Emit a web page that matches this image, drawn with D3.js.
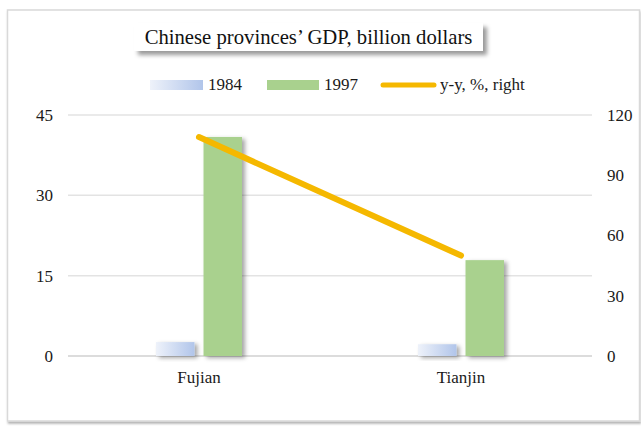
<!DOCTYPE html>
<html>
<head>
<meta charset="utf-8">
<script src="https://cdn.jsdelivr.net/npm/d3@7"></script>
<style>
  html, body { margin: 0; padding: 0; background: #fff; }
  svg { display: block; font-family: "Liberation Serif", "Times New Roman", serif; }
  svg text { font-family: "Liberation Serif", "Times New Roman", serif; }
</style>
</head>
<body>
<svg id="chart" width="641" height="426"></svg>
<script>
const categories = ["Fujian", "Tianjin"];
const seriesNames = ["1984", "1997"];
const gdp1984 = [2.6, 2.2];
const gdp1997 = [40.9, 17.9];
const yoy = [109, 50];
const leftTicks = [0, 15, 30, 45];
const rightTicks = [0, 30, 60, 90, 120];
const title = "Chinese provinces\u2019 GDP, billion dollars";
const lineLabel = "y-y, %, right";

const svg = d3.select("#chart");
const defs = svg.append("defs");

const grad = defs.append("linearGradient").attr("id", "g1984")
  .attr("x1", "0%").attr("x2", "100%").attr("y1", "0%").attr("y2", "0%");
grad.append("stop").attr("offset", "0%").attr("stop-color", "#eef2fa");
grad.append("stop").attr("offset", "100%").attr("stop-color", "#b1c5ea");

const sh = defs.append("filter").attr("id", "shadow")
  .attr("x", "-20%").attr("y", "-20%").attr("width", "160%").attr("height", "160%");
sh.append("feDropShadow").attr("dx", 3).attr("dy", 2).attr("stdDeviation", 2)
  .attr("flood-color", "#000").attr("flood-opacity", 0.35);

const shT = defs.append("filter").attr("id", "shadowT")
  .attr("x", "-10%").attr("y", "-30%").attr("width", "130%").attr("height", "190%");
shT.append("feDropShadow").attr("dx", 4).attr("dy", 4).attr("stdDeviation", 2)
  .attr("flood-color", "#000").attr("flood-opacity", 0.4);

const shF = defs.append("filter").attr("id", "shadowF")
  .attr("x", "-5%").attr("y", "-5%").attr("width", "110%").attr("height", "110%");
shF.append("feDropShadow").attr("dx", 1).attr("dy", 2).attr("stdDeviation", 1)
  .attr("flood-color", "#000").attr("flood-opacity", 0.3);

// outer frame
svg.append("rect").attr("x", 7.5).attr("y", 10).attr("width", 632).attr("height", 411)
  .attr("fill", "#fff").attr("stroke", "#d9d9d9").attr("stroke-width", 1.5)
  .attr("filter", "url(#shadowF)");

const x0 = 68, x1 = 592, yBottom = 356, yTop = 115;

const x = d3.scaleBand().domain(categories).range([x0, x1]).padding(0);
const xInner = d3.scaleBand().domain(seriesNames).range([0, 86]).paddingInner(0.19).paddingOuter(0);
const yL = d3.scaleLinear().domain([0, 45]).range([yBottom, yTop]);
const yR = d3.scaleLinear().domain([0, 120]).range([yBottom, yTop]);

// gridlines
svg.append("g").selectAll("line").data(leftTicks).join("line")
  .attr("x1", x0).attr("x2", x1)
  .attr("y1", d => yL(d)).attr("y2", d => yL(d))
  .attr("stroke", d => d === 0 ? "#d0d0d0" : "#e3e3e3")
  .attr("stroke-width", 1.5);

// left axis labels
svg.append("g").selectAll("text").data(leftTicks).join("text")
  .attr("x", 53).attr("y", d => yL(d)).attr("dy", "0.35em")
  .attr("text-anchor", "end").attr("font-size", 17).attr("fill", "#1a1a1a")
  .text(d => d);

// right axis labels
svg.append("g").selectAll("text").data(rightTicks).join("text")
  .attr("x", 607).attr("y", d => yR(d)).attr("dy", "0.35em")
  .attr("text-anchor", "start").attr("font-size", 17).attr("fill", "#1a1a1a")
  .text(d => d);

// bars
const groupOffset = (x.bandwidth() - 86) / 2;
const seriesData = [
  { name: "1984", values: gdp1984, fill: "url(#g1984)" },
  { name: "1997", values: gdp1997, fill: "#a9d18e" }
];
seriesData.forEach(s => {
  svg.append("g").selectAll("rect").data(categories).join("rect")
    .attr("x", (c) => x(c) + groupOffset + xInner(s.name))
    .attr("width", xInner.bandwidth())
    .attr("y", (c, i) => yL(s.values[i]))
    .attr("height", (c, i) => yL(0) - yL(s.values[i]))
    .attr("fill", s.fill)
    .attr("filter", "url(#shadow)");
});

// line
const line = d3.line()
  .x((d, i) => x(categories[i]) + x.bandwidth() / 2)
  .y(d => yR(d));
svg.append("path").datum(yoy)
  .attr("d", line)
  .attr("fill", "none").attr("stroke", "#f5b800").attr("stroke-width", 6)
  .attr("stroke-linecap", "round");

// category labels
svg.append("g").selectAll("text").data(categories).join("text")
  .attr("x", c => x(c) + x.bandwidth() / 2).attr("y", 383)
  .attr("text-anchor", "middle").attr("font-size", 17).attr("fill", "#1a1a1a")
  .text(c => c);

// title box
svg.append("rect").attr("x", 134).attr("y", 23).attr("width", 349).attr("height", 28)
  .attr("fill", "#fff").attr("filter", "url(#shadowT)");
svg.append("text").attr("x", 308.5).attr("y", 44)
  .attr("text-anchor", "middle").attr("font-size", 20.7).attr("fill", "#111")
  .text(title);

// legend
const lg = svg.append("g");
lg.append("rect").attr("x", 150).attr("y", 80).attr("width", 53).attr("height", 10).attr("fill", "url(#g1984)");
lg.append("text").attr("x", 208).attr("y", 90).attr("font-size", 17).attr("fill", "#1a1a1a").text(seriesNames[0]);
lg.append("rect").attr("x", 267).attr("y", 80).attr("width", 52).attr("height", 10).attr("fill", "#a9d18e");
lg.append("text").attr("x", 324).attr("y", 90).attr("font-size", 17).attr("fill", "#1a1a1a").text(seriesNames[1]);
lg.append("line").attr("x1", 383).attr("x2", 434).attr("y1", 85).attr("y2", 85)
  .attr("stroke", "#f5b800").attr("stroke-width", 5).attr("stroke-linecap", "round");
lg.append("text").attr("x", 440).attr("y", 90).attr("font-size", 17).attr("fill", "#1a1a1a").text(lineLabel);
</script>
</body>
</html>
